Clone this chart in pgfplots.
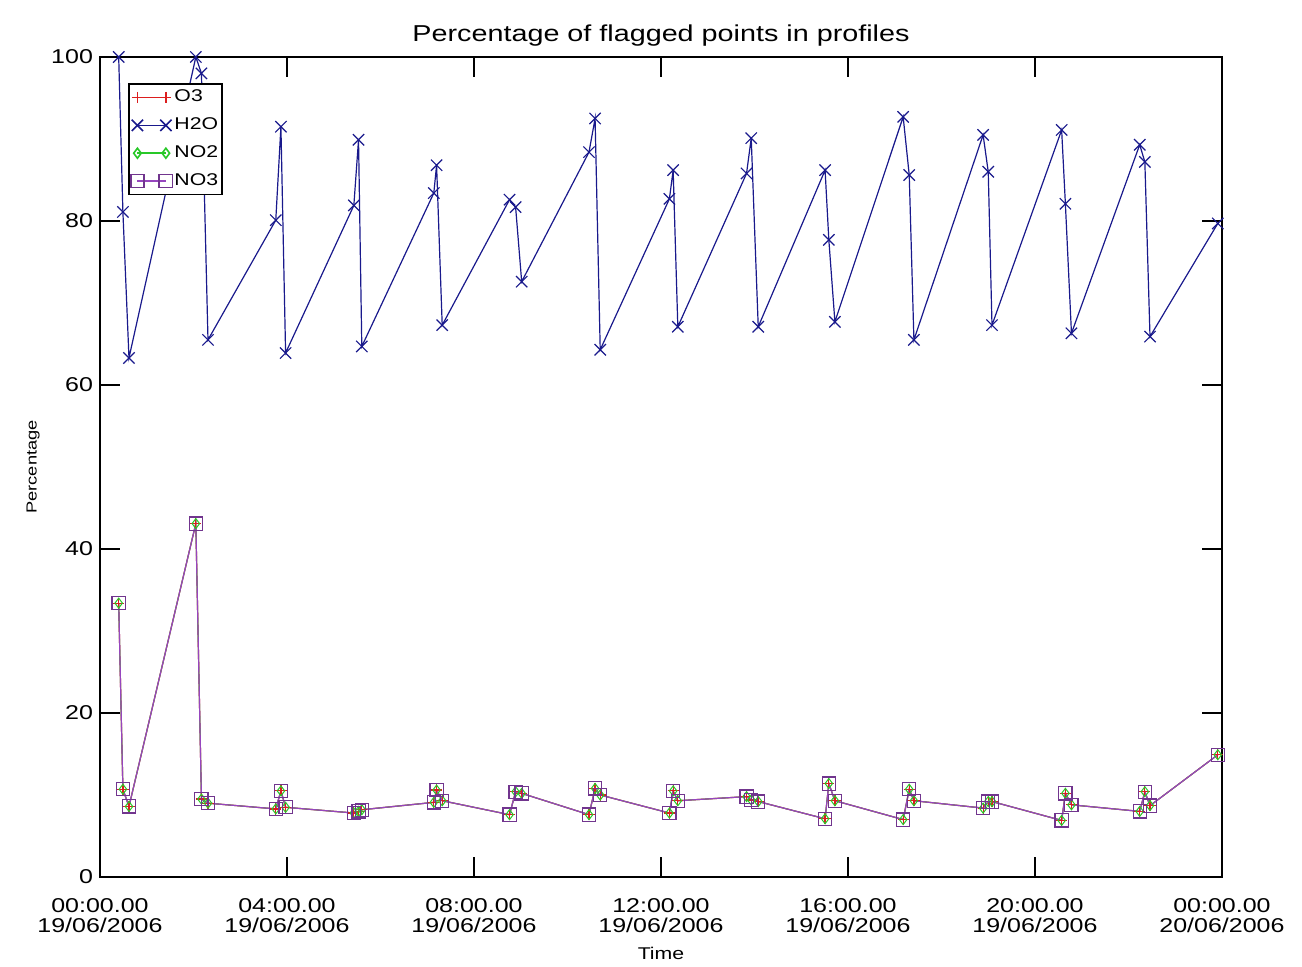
\documentclass[border=0pt]{standalone}
\usepackage{fontspec}
\setmainfont[FakeStretch=1.25]{Liberation Sans}
\usepackage{pgfplots}
\usepackage{pgfplotstable}
\pgfplotsset{compat=1.18}
\definecolor{h2ocol}{RGB}{25,25,140}
\definecolor{no3col}{RGB}{150,70,190}
\definecolor{o3col}{RGB}{220,30,30}
\definecolor{no2col}{RGB}{40,200,40}
\pgfplotstableread{
t     o3    h2o   no2   no3
0.40  33.4  100   33.4  33.4
0.49  10.7  81.1  10.7  10.7
0.62  8.6   63.3  8.6   8.6
2.05  43.1  100   43.1  43.1
2.17  9.5   98    9.5   9.5
2.31  9.0   65.5  9.0   9.0
3.76  8.3   80.1  8.3   8.3
3.87  10.5  91.5  10.5  10.5
3.97  8.5   63.9  8.5   8.5
5.43  7.8   81.9  7.8   7.8
5.53  8.0   89.9  8.0   8.0
5.60  8.2   64.7  8.2   8.2
7.14  9.1   83.4  9.1   9.1
7.20  10.6  86.8  10.6  10.6
7.32  9.3   67.3  9.3   9.3
8.76  7.6   82.6  7.6   7.6
8.89  10.4  81.7  10.4  10.4
9.02  10.2  72.6  10.2  10.2
10.46 7.6   88.4  7.6   7.6
10.59 10.8  92.5  10.8  10.8
10.70 10.0  64.3  10.0  10.0
12.18 7.8   82.7  7.8   7.8
12.26 10.5  86.2  10.5  10.5
12.36 9.3   67.1  9.3   9.3
13.83 9.8   85.8  9.8   9.8
13.93 9.4   90.1  9.4   9.4
14.08 9.2   67.1  9.2   9.2
15.51 7.1   86.2  7.1   7.1
15.59 11.4  77.7  11.4  11.4
15.72 9.3   67.7  9.3   9.3
17.18 7.0   92.7  7.0   7.0
17.31 10.7  85.6  10.7  10.7
17.41 9.3   65.5  9.3   9.3
18.89 8.4   90.5  8.4   8.4
19.00 9.2   86.0  9.2   9.2
19.08 9.2   67.3  9.2   9.2
20.57 6.9   91.1  6.9   6.9
20.65 10.2  82.1  10.2  10.2
20.78 8.8   66.3  8.8   8.8
22.24 8.0   89.3  8.0   8.0
22.35 10.4  87.2  10.4  10.4
22.46 8.7   65.9  8.7   8.7
23.91 14.9  79.7  14.9  14.9
}\data
\begin{document}
\begin{tikzpicture}
\useasboundingbox (-50pt,-45pt) rectangle (601pt,438.5pt);
\fill[white] (-50pt,-45pt) rectangle (601pt,438.5pt);
\begin{axis}[
  at={(0,0)}, anchor=south west,
  scale only axis, width=561pt, height=410pt,
  xmin=0, xmax=24, ymin=0, ymax=100,
  xtick={0,4,8,12,16,20,24},
  xticklabels={{00:00.00\\19/06/2006},{04:00.00\\19/06/2006},{08:00.00\\19/06/2006},{12:00.00\\19/06/2006},{16:00.00\\19/06/2006},{20:00.00\\19/06/2006},{00:00.00\\20/06/2006}},
  xticklabel style={align=center, font=\fontsize{10}{10}\selectfont, yshift=-7pt},
  ytick={0,20,40,60,80,100},
  yticklabel style={font=\fontsize{10}{10}\selectfont},
  /pgf/number format/assume math mode=true,
  tick align=inside, major tick length=10pt,
  tick style={black, line width=0.6pt},
  axis line style={line width=0.8pt},
  title={Percentage of flagged points in profiles},
  title style={font=\fontsize{11.5}{12}\selectfont, at={(axis description cs:0.5,1)}, anchor=south, yshift=-4pt},
  xlabel={Time},
  xlabel style={font=\fontsize{8.5}{10}\selectfont, at={(axis description cs:0.5,-0.0927)}, anchor=center},
  ylabel={Percentage},
  ylabel style={font=\fontsize{7.3}{9}\selectfont, at={(axis description cs:-0.0597,0.5)}, anchor=center},
  legend style={at={(rel axis cs:0.025,0.968)}, anchor=north west, draw=black, line width=0.8pt,
    font=\fontsize{8.5}{10}\selectfont, inner sep=1pt, row sep=2.5pt, cells={anchor=west},
    nodes={inner xsep=1pt}},
  legend image code/.code={\draw[#1, line width=0.8pt] plot coordinates {(0cm,0cm) (0.5cm,0cm)};},
  legend cell align=left,
]
\addplot[color=o3col, line width=0.6pt, mark=+, mark size=2.8pt, mark options={draw=o3col}] table[x=t,y=o3]{\data};
\addlegendentry{O3}
\addplot[color=h2ocol, line width=0.6pt, mark=x, mark size=4pt] table[x=t,y=h2o]{\data};
\addlegendentry{H2O}
\addplot[color=no2col, line width=0.5pt, mark=diamond, mark size=2.5pt] table[x=t,y=no2]{\data};
\addlegendentry{NO2}
\addplot[color=no3col, line width=0.6pt, mark=square, mark size=3.3pt, mark options={draw=no3col!75!black}] table[x=t,y=no3]{\data};
\addlegendentry{NO3}
\end{axis}
\end{tikzpicture}
\end{document}
